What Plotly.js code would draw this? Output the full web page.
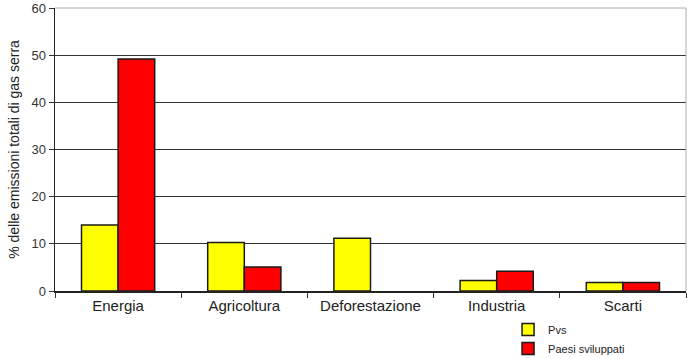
<!DOCTYPE html>
<html>
<head>
<meta charset="utf-8">
<script src="https://cdn.plot.ly/plotly-3.0.1.min.js"></script>
<style>html,body{margin:0;padding:0;background:#fff;}#chart{width:690px;height:359px;}</style>
</head>
<body>
<div id="chart"></div>
<script>
const categories = ["Energia", "Agricoltura", "Deforestazione", "Industria", "Scarti"];
const pvsValues = [14, 10.3, 11.2, 2.2, 1.8];
const sviluppatiValues = [49.2, 5.1, null, 4.2, 1.8];
const seriesNames = ["Pvs", "Paesi sviluppati"];
const yTicks = [0, 10, 20, 30, 40, 50, 60];

const traces = [
  {type: "bar", name: seriesNames[0], x: categories, y: pvsValues,
   marker: {color: "#ffff00", line: {color: "#1a1a1a", width: 1.5}}},
  {type: "bar", name: seriesNames[1], x: categories, y: sviluppatiValues,
   marker: {color: "#ff0000", line: {color: "#1a1a1a", width: 1.5}}}
];

const layout = {
  width: 690, height: 359,
  margin: {l: 55, r: 4, t: 8, b: 68, autoexpand: false},
  paper_bgcolor: "#fff", plot_bgcolor: "#fff",
  font: {family: "Liberation Sans, Arial, sans-serif", color: "#222", size: 12},
  barmode: "group", bargap: 0.42, bargroupgap: 0,
  showlegend: true,
  legend: {x: 0.718, y: -0.085, xanchor: "left", yanchor: "top", bgcolor: "rgba(0,0,0,0)",
           font: {size: 11, color: "#222"}, tracegroupgap: 0, itemwidth: 30},
  xaxis: {
    type: "category", showline: true, linecolor: "#222", linewidth: 1.5,
    ticks: "outside", tickson: "boundaries", ticklen: 5, tickcolor: "#333",
    tickfont: {size: 15, color: "#222"}, showgrid: false, zeroline: false
  },
  yaxis: {
    range: [0, 60], tickvals: yTicks, ticktext: yTicks.map(String),
    showline: true, linecolor: "#222", linewidth: 1.5,
    ticks: "outside", ticklen: 5, tickcolor: "#333",
    showgrid: true, gridcolor: "#333", gridwidth: 1, zeroline: false,
    tickfont: {size: 13, color: "#333"},
    title: {text: "% delle emissioni totali di gas serra", font: {size: 14, color: "#222"}, standoff: 8}
  },
  shapes: [
    {type: "line", xref: "paper", yref: "paper", x0: 0, x1: 1, y0: 1, y1: 1, line: {color: "#aaa", width: 1}},
    {type: "line", xref: "paper", yref: "paper", x0: 1, x1: 1, y0: 0, y1: 1, line: {color: "#aaa", width: 1}}
  ]
};

Plotly.newPlot("chart", traces, layout, {displayModeBar: false, staticPlot: true});
</script>
</body>
</html>
